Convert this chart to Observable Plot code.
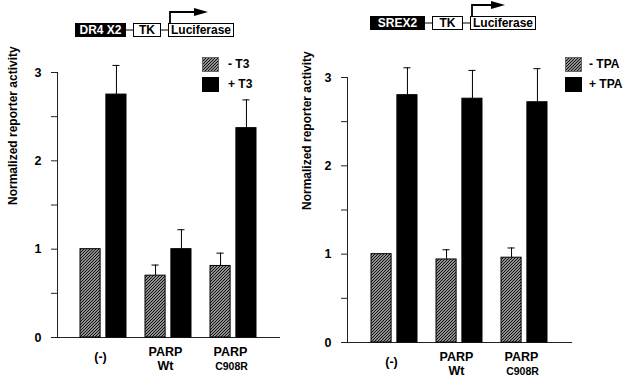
<!DOCTYPE html>
<html>
<head>
<meta charset="utf-8">
<script src="https://cdn.jsdelivr.net/npm/d3@7"></script>
<script src="https://cdn.jsdelivr.net/npm/@observablehq/plot@0.6"></script>
<style>
  html, body { margin: 0; padding: 0; background: white; }
  #wrap { position: relative; width: 628px; height: 385px; overflow: hidden; background: white; font-family: "Liberation Sans", Arial, sans-serif; }
  #wrap > svg, #wrap > figure { position: absolute; margin: 0; }
</style>
</head>
<body>
<div id="wrap"></div>
<script>
// ---------- data ----------
const categories = ["(-)", "PARP Wt", "PARP C908R"];
const catLine1 = ["(-)", "PARP", "PARP"];
const catLine2 = ["", "Wt", "C908R"];
const yTicks = [0, 0.5, 1, 1.5, 2, 2.5, 3];
const yLabel = "Normalized reporter activity";

// Left panel (T3)
const t3Minus    = [1.00, 0.70, 0.81];
const t3MinusErr = [0.00, 0.12, 0.145];
const t3Plus     = [2.75, 1.00, 2.37];
const t3PlusErr  = [0.33, 0.22, 0.32];
const t3Legend   = ["- T3", "+ T3"];
const t3Construct = ["DR4 X2", "TK", "Luciferase"];

// Right panel (TPA)
const tpaMinus    = [1.00, 0.94, 0.96];
const tpaMinusErr = [0.00, 0.11, 0.11];
const tpaPlus     = [2.80, 2.76, 2.72];
const tpaPlusErr  = [0.31, 0.32, 0.38];
const tpaLegend   = ["- TPA", "+ TPA"];
const tpaConstruct = ["SREX2", "TK", "Luciferase"];

const FONT = "Liberation Sans, Arial, Helvetica, sans-serif";

function hatchDefs(svg, id) {
  const defs = d3.select(svg).insert("defs", ":first-child");
  const p = defs.append("pattern").attr("id", id)
    .attr("patternUnits", "userSpaceOnUse").attr("width", 3).attr("height", 3);
  p.append("rect").attr("width", 3).attr("height", 3).attr("fill", "white");
  p.append("path").attr("d", "M-1,1 L1,-1 M0,3 L3,0 M2,4 L4,2")
    .attr("stroke", "#111").attr("stroke-width", 1.35);
}

function panel({minus, minusErr, plus, plusErr, width, marginTop, marginBottom, marginRight, range, patternId, ylabelDx}) {
  const rows = categories.map((c, i) => ({
    cat: c, l1: catLine1[i], l2: catLine2[i],
    minus: minus[i], minusErr: minusErr[i], plus: plus[i], plusErr: plusErr[i]
  }));
  const step = (range[1] - range[0]) / 2.7;
  const bw = step * 0.7;
  const barW = 20;
  const off = bw / 2 - barW / 2;
  const capIn = bw / 2 - 3.5;
  const withMinusErr = rows.filter(d => d.minusErr > 0);
  const svg = Plot.plot({
    width, height: 385,
    marginLeft: 57, marginRight, marginTop, marginBottom,
    style: {fontFamily: FONT, fontSize: "12px", fontWeight: "bold", color: "black", background: "transparent"},
    x: {type: "band", domain: categories, range, paddingInner: 0.3, paddingOuter: 0, axis: null},
    y: {domain: [0, 3], axis: null},
    marks: [
      Plot.axisY({ticks: yTicks, tickFormat: d => Number.isInteger(d) ? String(d) : "", tickSize: 6, tickPadding: 10, stroke: "#222", fontSize: 12.5, fontWeight: "bold", label: null}),
      Plot.frame({anchor: "left", stroke: "#222"}),
      Plot.ruleY([0], {stroke: "#222"}),
      // error bars (upper only)
      Plot.ruleX(withMinusErr, {x: "cat", y1: "minus", y2: d => d.minus + d.minusErr, dx: -off, stroke: "black"}),
      Plot.tickY(withMinusErr, {x: "cat", y: d => d.minus + d.minusErr, dx: -off, insetLeft: capIn, insetRight: capIn, stroke: "black"}),
      Plot.ruleX(rows, {x: "cat", y1: "plus", y2: d => d.plus + d.plusErr, dx: off, stroke: "black"}),
      Plot.tickY(rows, {x: "cat", y: d => d.plus + d.plusErr, dx: off, insetLeft: capIn, insetRight: capIn, stroke: "black"}),
      // bars
      Plot.barY(rows, {x: "cat", y: "minus", insetRight: bw - barW, fill: `url(#${patternId})`, stroke: "black", strokeWidth: 1}),
      Plot.barY(rows, {x: "cat", y: "plus", insetLeft: bw - barW, fill: "black", stroke: "black", strokeWidth: 1}),
      // category labels
      Plot.text(rows.filter(d => d.l2 === ""), {x: "cat", text: "l1", frameAnchor: "bottom", dy: 23, dx: -3, fontSize: 12.5, fontWeight: "bold", fill: "black"}),
      Plot.text(rows.filter(d => d.l2 !== ""), {x: "cat", text: "l1", frameAnchor: "bottom", dy: 18, dx: -3, fontSize: 12.5, fontWeight: "bold", fill: "black"}),
      Plot.text(rows.filter(d => d.l2 === "Wt"), {x: "cat", text: "l2", frameAnchor: "bottom", dy: 32, dx: -3, fontSize: 12.5, fontWeight: "bold", fill: "black"}),
      Plot.text(rows.filter(d => d.l2 === "C908R"), {x: "cat", text: "l2", frameAnchor: "bottom", dy: 32, dx: -2, fontSize: 10.5, fontWeight: "bold", fill: "black"}),
      // y label
      Plot.text([yLabel], {frameAnchor: "left", rotate: -90, dx: ylabelDx, fontSize: 12, fontWeight: "bold", fill: "black"})
    ]
  });
  hatchDefs(svg, patternId);
  return svg;
}

const wrap = document.getElementById("wrap");

const left = panel({minus: t3Minus, minusErr: t3MinusErr, plus: t3Plus, plusErr: t3PlusErr,
  width: 290, marginTop: 72, marginBottom: 48, marginRight: 10, range: [79, 256], patternId: "hatchL", ylabelDx: -44});
left.style.left = "0px"; left.style.top = "0px";
wrap.appendChild(left);

const right = panel({minus: tpaMinus, minusErr: tpaMinusErr, plus: tpaPlus, plusErr: tpaPlusErr,
  width: 338, marginTop: 77, marginBottom: 43, marginRight: 56, range: [80, 257], patternId: "hatchR", ylabelDx: -40});
right.style.left = "290px"; right.style.top = "0px";
wrap.appendChild(right);

// ---------- overlay: constructs & legends ----------
const ov = d3.select(wrap).append("svg").attr("width", 628).attr("height", 385)
  .style("left", "0px").style("top", "0px");
hatchDefs(ov.node(), "hatchO");

function construct(parts, x0, y0, widths, arrowTop, arrowEnd) {
  const g = ov.append("g");
  const h = 13, gap = 7;
  let x = x0;
  parts.forEach((t, i) => {
    const w = widths[i];
    g.append("rect").attr("x", x + 0.5).attr("y", y0 + 0.5).attr("width", w).attr("height", h)
      .attr("fill", i === 0 ? "black" : "white").attr("stroke", "black").attr("stroke-width", 1);
    g.append("text").attr("x", x + w / 2 + 0.5).attr("y", y0 + h / 2 + 1.5).attr("text-anchor", "middle")
      .attr("dominant-baseline", "middle").attr("font-family", FONT).attr("font-weight", "bold")
      .attr("font-size", 12).attr("fill", i === 0 ? "white" : "black").text(t);
    if (i === parts.length - 1) {
      const ax = x + 2;
      g.append("path").attr("d", `M${ax},${y0} V${arrowTop} H${arrowEnd - 13}`)
        .attr("fill", "none").attr("stroke", "black").attr("stroke-width", 1.8);
      g.append("path").attr("d", `M${arrowEnd - 14},${arrowTop - 4} L${arrowEnd},${arrowTop} L${arrowEnd - 14},${arrowTop + 4} Z`).attr("fill", "black");
    }
    if (i < parts.length - 1) {
      g.append("line").attr("x1", x + w).attr("x2", x + w + gap + 1).attr("y1", y0 + h / 2 + 0.5).attr("y2", y0 + h / 2 + 0.5)
        .attr("stroke", "black").attr("stroke-width", 1);
    }
    x += w + gap + 1;
  });
}
construct(t3Construct, 75, 23, [50, 27, 65], 12, 208);
construct(tpaConstruct, 370, 16, [54, 30, 65], 5, 505);

function legend(labels, bx, by, tx) {
  const g = ov.append("g");
  g.append("rect").attr("x", bx + 0.5).attr("y", by + 0.5).attr("width", 16).attr("height", 14)
    .attr("fill", "url(#hatchO)").attr("stroke", "#555").attr("stroke-width", 0.8);
  g.append("rect").attr("x", bx).attr("y", by + 20).attr("width", 17).attr("height", 15).attr("fill", "black");
  [0, 1].forEach(i => {
    g.append("text").attr("x", tx).attr("y", by + 8 + 20 * i).attr("dominant-baseline", "middle")
      .attr("font-family", FONT).attr("font-weight", "bold").attr("font-size", 12).text(labels[i]);
  });
}
legend(t3Legend, 202, 57, 228);
legend(tpaLegend, 565, 57, 589);
</script>
</body>
</html>
